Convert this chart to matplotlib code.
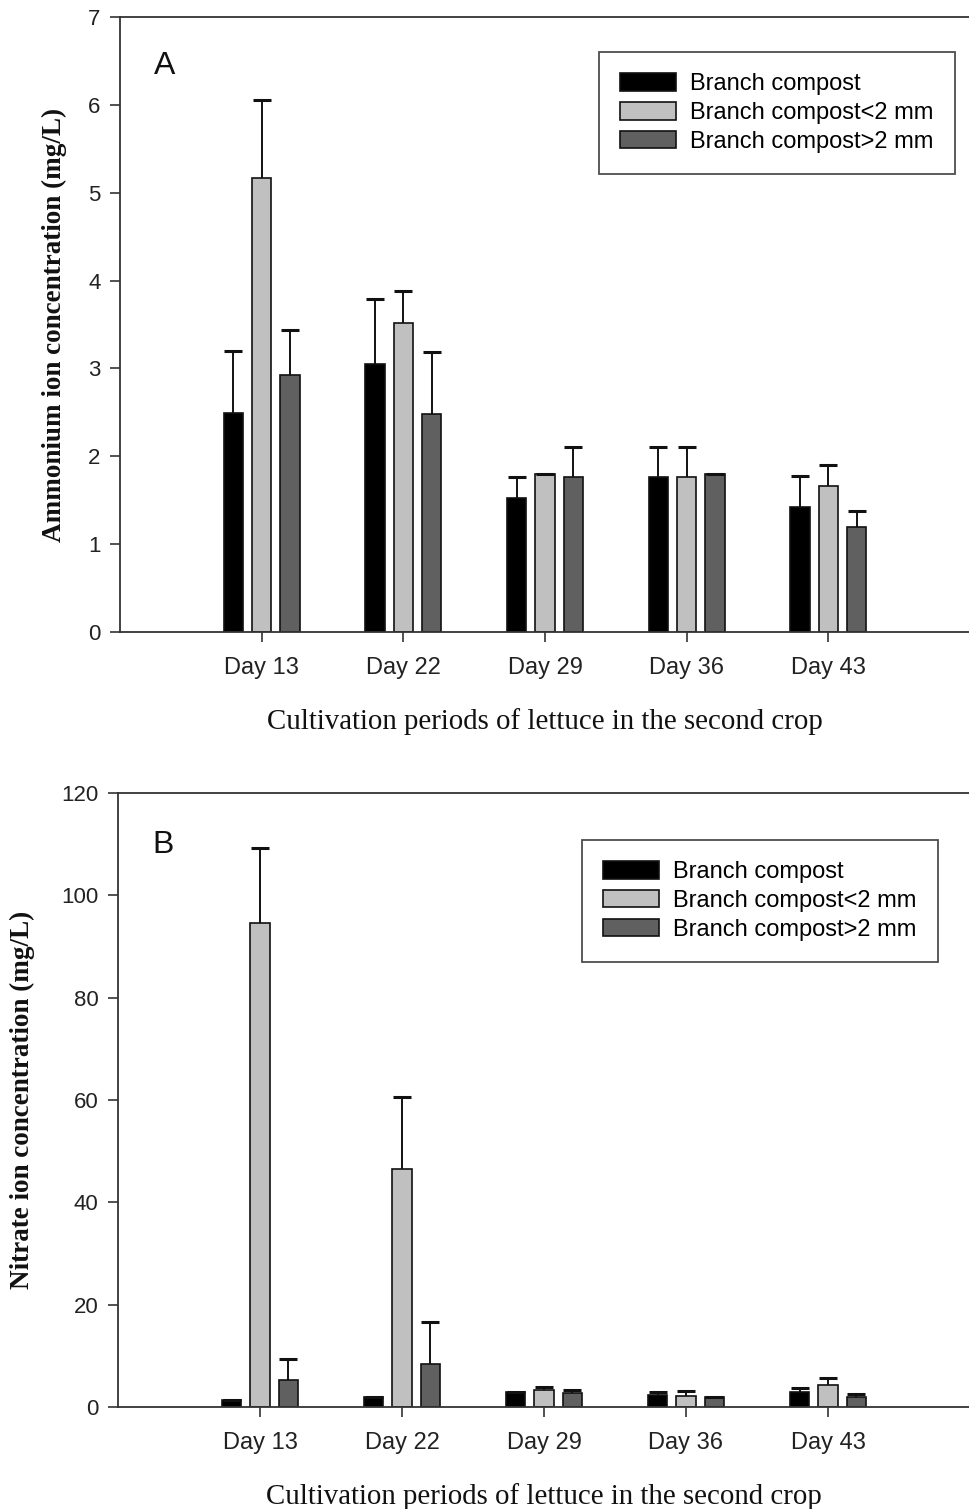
import matplotlib
matplotlib.use("Agg")
import matplotlib.pyplot as plt
import numpy as np

# Sampling days of the second lettuce crop
days = ["Day 13", "Day 22", "Day 29", "Day 36", "Day 43"]
series_names = ["Branch compost", "Branch compost<2 mm", "Branch compost>2 mm"]

# Panel A: ammonium ion concentration (mg/L), means and upper standard deviations
nh4_bc = [2.49, 3.05, 1.53, 1.76, 1.42]
nh4_bc_err = [0.71, 0.74, 0.23, 0.35, 0.36]
nh4_fine = [5.17, 3.52, 1.80, 1.76, 1.66]
nh4_fine_err = [0.88, 0.36, 0.0, 0.35, 0.24]
nh4_coarse = [2.92, 2.48, 1.76, 1.80, 1.19]
nh4_coarse_err = [0.52, 0.71, 0.35, 0.0, 0.19]

# Panel B: nitrate ion concentration (mg/L), means and upper standard deviations
no3_bc = [1.4, 1.9, 3.0, 2.3, 2.9]
no3_bc_err = [0.0, 0.0, 0.0, 0.7, 0.8]
no3_fine = [94.5, 46.6, 3.4, 2.2, 4.3]
no3_fine_err = [14.7, 13.9, 0.6, 1.0, 1.3]
no3_coarse = [5.2, 8.5, 2.8, 1.9, 1.9]
no3_coarse_err = [4.1, 8.2, 0.6, 0.0, 0.7]

colors = ["#000000", "#c0c0c0", "#606060"]
sans = "Liberation Sans"
serif = "Liberation Serif"

fig = plt.figure(figsize=(9.7, 15.09), dpi=100)


def panel(rect, means, errs, ylim, yticks, ylabel, letter, letter_xy,
          legend_anchor, ylabel_x):
    ax = fig.add_axes(rect)
    x = np.arange(1, len(days) + 1)
    offsets = [-0.2, 0.0, 0.2]
    width = 0.135
    handles = []
    for m, e, off, c, name in zip(means, errs, offsets, colors, series_names):
        e = np.asarray(e)
        bars = ax.bar(x + off, m, width=width, color=c, edgecolor="#111111",
                      linewidth=1.2, label=name, zorder=2,
                      yerr=[np.zeros_like(e), e], capsize=6.5,
                      error_kw=dict(ecolor="#111111", elinewidth=1.4,
                                    capthick=2.2, zorder=3))
        # one-sided error bars: hide the caps sitting on the bar tops
        caplines = bars.errorbar.lines[1]
        if caplines:
            caplines[0].set_visible(False)
        handles.append(bars)
    ax.set_xlim(0, 6)
    ax.set_ylim(*ylim)
    ax.set_yticks(yticks)
    ax.set_yticklabels([str(t) for t in yticks], fontfamily=sans, fontsize=16,
                       color="#222222")
    ax.set_xticks(x)
    ax.set_xticklabels(days, fontfamily=sans, fontsize=17, color="#222222")
    ax.tick_params(axis="both", direction="out", length=7, width=1.2,
                   color="#333333")
    ax.tick_params(axis="x", pad=11)
    ax.tick_params(axis="y", pad=7)
    for s in ["left", "bottom", "top"]:
        ax.spines[s].set_linewidth(1.3)
        ax.spines[s].set_color("#333333")
    ax.spines["right"].set_visible(False)
    ax.set_xlabel("Cultivation periods of lettuce in the second crop",
                  fontfamily=serif, fontsize=20.8, labelpad=21, color="#111111")
    ax.set_ylabel(ylabel, fontfamily=serif, fontsize=19.5, fontweight="bold",
                  color="#111111")
    ax.yaxis.set_label_coords(ylabel_x, 0.5)
    ax.text(letter_xy[0], letter_xy[1], letter, transform=ax.transAxes,
            fontfamily=sans, fontsize=23, ha="center", va="center",
            color="#111111")
    leg = ax.legend(handles=handles, loc="upper left",
                    bbox_to_anchor=legend_anchor, borderaxespad=0,
                    prop=dict(family=sans, size=17),
                    frameon=True, fancybox=False, edgecolor="#222222",
                    handlelength=2.35, handleheight=0.75, handletextpad=0.6,
                    labelspacing=0.29, borderpad=0.9)
    leg.get_frame().set_linewidth(1.3)
    return ax


panel([120 / 970, 1 - 632 / 1509, 850 / 970, 615 / 1509],
      [nh4_bc, nh4_fine, nh4_coarse],
      [nh4_bc_err, nh4_fine_err, nh4_coarse_err],
      (0, 7), [0, 1, 2, 3, 4, 5, 6, 7],
      "Ammonium ion concentration (mg/L)", "A", (0.053, 0.920),
      (0.5635, 0.943), -0.062)

panel([118 / 970, 1 - 1407 / 1509, 852 / 970, 614 / 1509],
      [no3_bc, no3_fine, no3_coarse],
      [no3_bc_err, no3_fine_err, no3_coarse_err],
      (0, 120), [0, 20, 40, 60, 80, 100, 120],
      "Nitrate ion concentration (mg/L)", "B", (0.053, 0.915),
      (0.5446, 0.9235), -0.097)

fig.savefig("out.png", dpi=100)
